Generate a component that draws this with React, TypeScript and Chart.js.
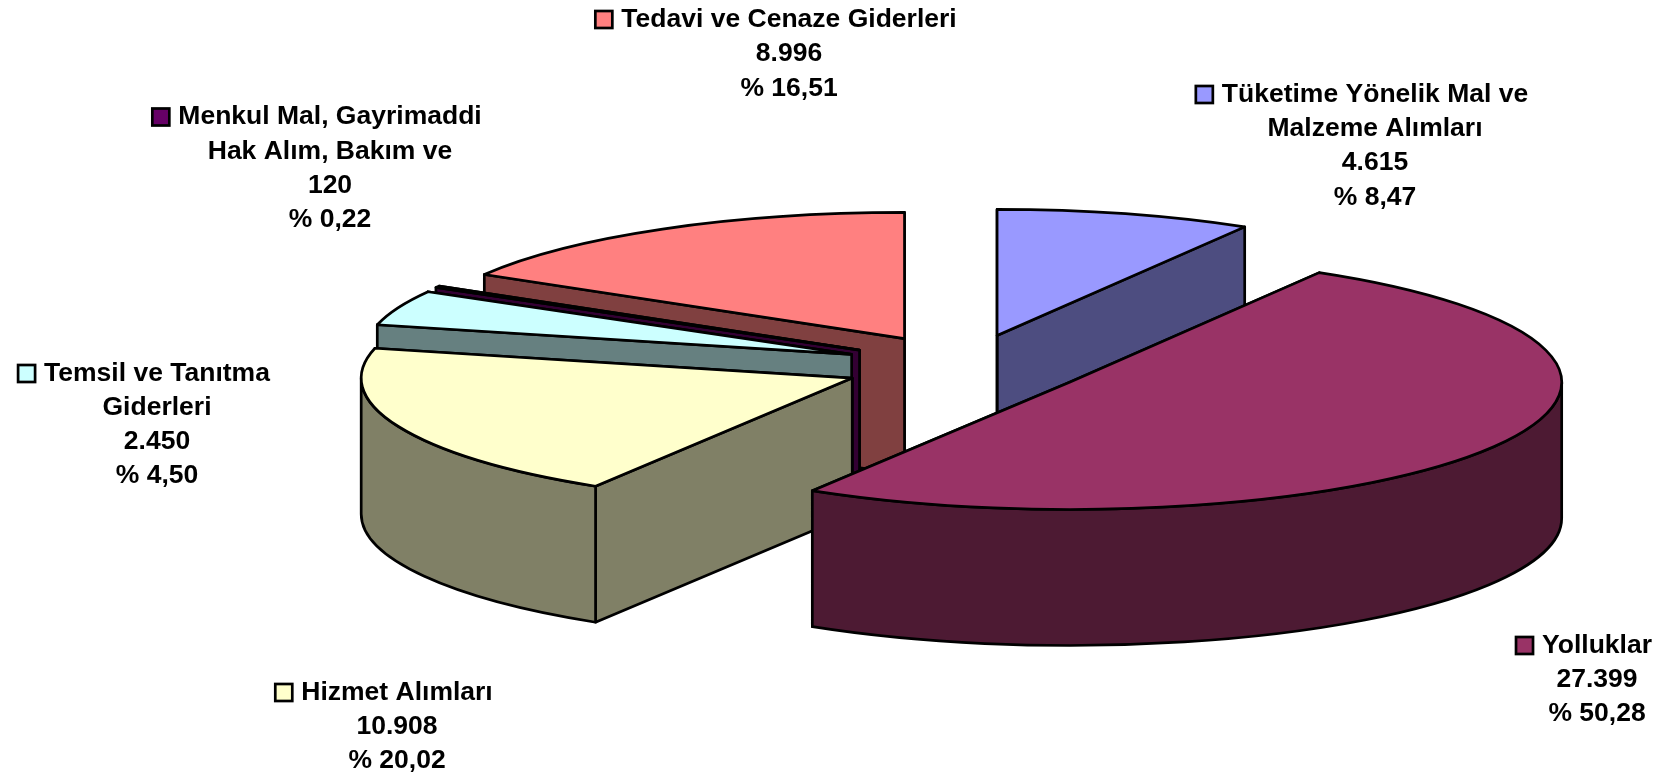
import React, { useEffect, useRef } from "react";
import { Chart, registerables } from "chart.js";

Chart.register(...registerables);

const categories = [
  "Tüketime Yönelik Mal ve Malzeme Alımları",
  "Yolluklar",
  "Hizmet Alımları",
  "Temsil ve Tanıtma Giderleri",
  "Menkul Mal, Gayrimaddi Hak Alım, Bakım ve",
  "Tedavi ve Cenaze Giderleri",
];
const values = [4615, 27399, 10908, 2450, 120, 8996];
const valueLabels = ["4.615", "27.399", "10.908", "2.450", "120", "8.996"];
const percentLabels = ["% 8,47", "% 50,28", "% 20,02", "% 4,50", "% 0,22", "% 16,51"];
const nameLines = [
  ["Tüketime Yönelik Mal ve", "Malzeme Alımları"],
  ["Yolluklar"],
  ["Hizmet Alımları"],
  ["Temsil ve Tanıtma", "Giderleri"],
  ["Menkul Mal, Gayrimaddi", "Hak Alım, Bakım ve"],
  ["Tedavi ve Cenaze Giderleri"],
];
const topColors = ["#9999FF", "#993366", "#FFFFCC", "#CCFFFF", "#660066", "#FF8080"];
const wallColors = ["#4D4D80", "#4D1A33", "#808066", "#668080", "#330033", "#804040"];

// painter's order, back to front
const drawOrder = [0, 5, 4, 3, 2, 1];

// layout of the 3D projection
const CX = 965;
const CY = 366;
const RADIUS = 488;
const FRONT_GROW = 8;
const TILT = 0.2585;
const EXPLODE = 122;
const DEPTH = 136;
const LINE_W = 2.7;

// label layout: centre x, first line mid y, line height
const labelLayout = [
  { cx: 1375, y: 94.5, lh: 34.3 },
  { cx: 1597, y: 645.5, lh: 34.2 },
  { cx: 397, y: 692.5, lh: 34 },
  { cx: 157, y: 373.5, lh: 34.2 },
  { cx: 330, y: 117, lh: 34.2 },
  { cx: 789, y: 19.5, lh: 34.4 },
];
const SWATCH = 17;
const SWATCH_GAP = 26;
const FONT = 'bold 26.5px "Liberation Sans", Arial, sans-serif';

const pie3d = {
  id: "pie3d",
  beforeDatasetsDraw(chart: any) {
    const ctx = chart.ctx;
    const meta = chart.getDatasetMeta(0);
    for (const i of drawOrder) {
      const arc = meta.data[i];
      const { x, y, startAngle: s, endAngle: e, outerRadius } = arc.getProps(
        ["x", "y", "startAngle", "endAngle", "outerRadius"],
        true
      );
      const mid = (s + e) / 2;
      const ax = CX + EXPLODE * Math.cos(mid);
      const ay = CY + EXPLODE * Math.sin(mid) * TILT;
      const R = RADIUS + FRONT_GROW * Math.max(0, Math.sin(mid));
      const px = (a: number) => ax + R * Math.cos(a);
      const py = (a: number) => ay + R * TILT * Math.sin(a);

      ctx.save();
      ctx.lineWidth = LINE_W;
      ctx.strokeStyle = "#000";
      ctx.lineJoin = "round";
      ctx.fillStyle = wallColors[i];

      // radial walls
      for (const a of [e, s]) {
        ctx.beginPath();
        ctx.moveTo(ax, ay);
        ctx.lineTo(px(a), py(a));
        ctx.lineTo(px(a), py(a) + DEPTH);
        ctx.lineTo(ax, ay + DEPTH);
        ctx.closePath();
        ctx.fill();
        ctx.stroke();
      }

      // outer curved wall: only the part that faces the viewer
      for (let k = -1; k <= 1; k++) {
        const lo = Math.max(s, k * 2 * Math.PI);
        const hi = Math.min(e, k * 2 * Math.PI + Math.PI);
        if (hi <= lo) continue;
        ctx.beginPath();
        ctx.ellipse(ax, ay, R, R * TILT, 0, lo, hi);
        ctx.lineTo(px(hi), py(hi) + DEPTH);
        ctx.ellipse(ax, ay + DEPTH, R, R * TILT, 0, hi, lo, true);
        ctx.closePath();
        ctx.fill();
        ctx.stroke();
      }

      // top face: the library's own arc, squashed into perspective
      const k = R / outerRadius;
      ctx.save();
      ctx.translate(ax, ay);
      ctx.scale(k, k * TILT);
      ctx.translate(-x, -y);
      arc.draw(ctx);
      ctx.restore();

      ctx.beginPath();
      ctx.moveTo(ax, ay);
      ctx.ellipse(ax, ay, R, R * TILT, 0, s, e);
      ctx.closePath();
      ctx.stroke();
      ctx.restore();
    }
    return false;
  },
  afterDraw(chart: any) {
    const ctx = chart.ctx;
    ctx.save();
    ctx.font = FONT;
    ctx.fillStyle = "#000";
    ctx.textBaseline = "middle";
    ctx.textAlign = "center";
    categories.forEach((_, i) => {
      const l = labelLayout[i];
      const lines = [...nameLines[i], valueLabels[i], percentLabels[i]];
      lines.forEach((t, n) => {
        const ly = l.y + n * l.lh;
        ctx.fillText(t, l.cx, ly);
        if (n === 0) {
          const sx = l.cx - ctx.measureText(t).width / 2 - SWATCH_GAP;
          ctx.fillStyle = topColors[i];
          ctx.fillRect(sx, ly - SWATCH / 2, SWATCH, SWATCH);
          ctx.lineWidth = LINE_W;
          ctx.strokeStyle = "#000";
          ctx.strokeRect(sx, ly - SWATCH / 2, SWATCH, SWATCH);
          ctx.fillStyle = "#000";
        }
      });
    });
    ctx.restore();
  },
};

export default function App() {
  const ref = useRef<HTMLCanvasElement | null>(null);
  useEffect(() => {
    document.body.style.margin = "0";
    const chart = new Chart(ref.current as HTMLCanvasElement, {
      type: "pie",
      data: {
        labels: categories,
        datasets: [{ data: values, backgroundColor: topColors, borderWidth: 0 }],
      },
      options: {
        animation: false,
        responsive: false,
        maintainAspectRatio: false,
        plugins: { legend: { display: false }, tooltip: { enabled: false } },
      },
      plugins: [pie3d],
    } as any);
    return () => chart.destroy();
  }, []);
  return <canvas ref={ref} width={1663} height={776} style={{ display: "block" }} />;
}
